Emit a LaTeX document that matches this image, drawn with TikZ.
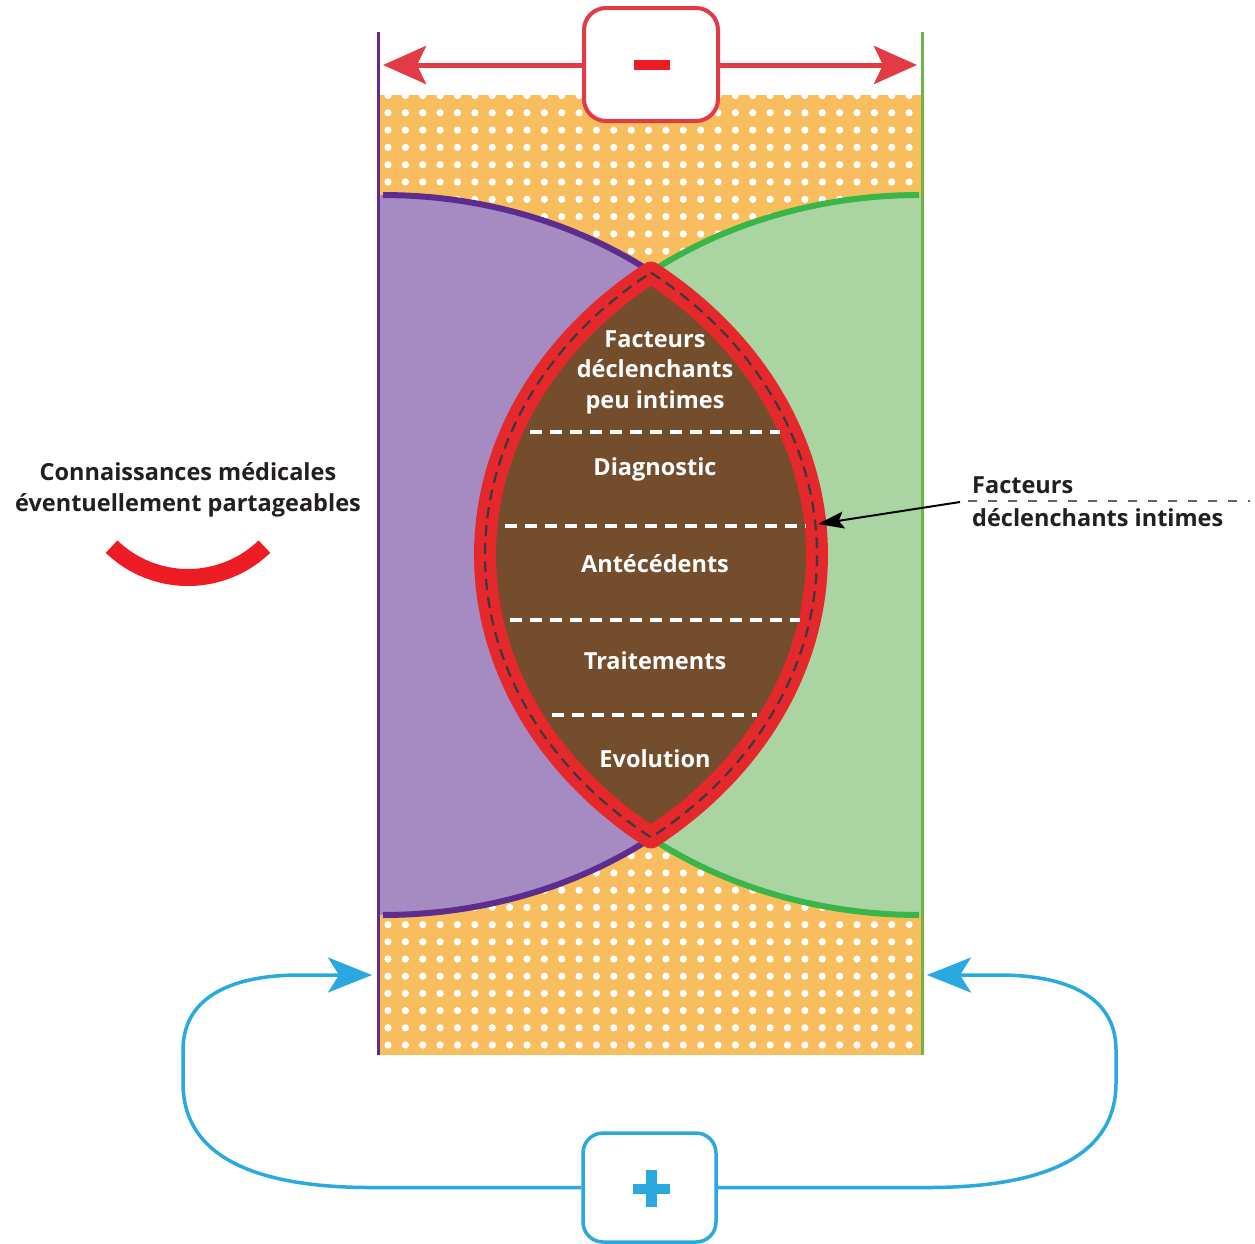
\documentclass[tikz,border=0pt]{standalone}
\usepackage{fontspec}
\setmainfont{Open Sans}
\usetikzlibrary{arrows.meta}
\definecolor{orangebg}{HTML}{F8BE5E}
\definecolor{purplefill}{HTML}{A68BC2}
\definecolor{purpleline}{HTML}{5E2C8F}
\definecolor{greenfill}{HTML}{AAD5A2}
\definecolor{greenline}{HTML}{3AB54A}
\definecolor{greenvert}{HTML}{6DB544}
\definecolor{lensbrown}{HTML}{744D2D}
\definecolor{lensred}{HTML}{E4282C}
\definecolor{arrowred}{HTML}{E23B45}
\definecolor{minusred}{HTML}{ED1C24}
\definecolor{txt}{HTML}{231F20}
\definecolor{cyanblue}{HTML}{29A9E0}
\definecolor{dashgray}{HTML}{3A3A3A}
\tikzset{
  lenslbl/.style={text=white, font=\bfseries\fontsize{23.5}{30}\selectfont, inner sep=0pt, anchor=base},
  sidelbl/.style={text=txt, font=\bfseries\fontsize{23.5}{31}\selectfont, inner sep=0pt},
  sepline/.style={white, line width=3.5pt, dash pattern=on 12pt off 8pt},
  bluecon/.style={cyanblue, line width=3.5pt},
  bluetip/.style={-{Stealth[length=44pt,width=35pt,inset=11pt]}},
  redtip/.style={{Stealth[length=43pt,width=38pt,inset=9pt]}-{Stealth[length=43pt,width=38pt,inset=9pt]}},
}
\begin{document}
\begin{tikzpicture}[x=1pt,y=-1pt]
\useasboundingbox (0,0) rectangle (1255,1243);
\fill[white] (0,0) rectangle (1255,1243);

% orange dotted background
\begin{scope}
  \clip (378,95) rectangle (922,1055);
  \fill[orangebg] (378,95) rectangle (922,1055);
  \foreach \i in {0,...,31}{
    \foreach \j in {0,...,27}{
      \fill[white] ({388+17.37*\i},{95.5+17.3*\j}) circle[radius=3.6];
      \fill[white] ({388+17.37*\i},{1045-17.2*\j}) circle[radius=3.6];
    }
  }
\end{scope}

% purple half-ellipse
\fill[purplefill] (380,195) -- plot[domain=-90:90, samples=150] ({380+437*cos(\x)},{555+360*sin(\x)}) -- cycle;
% green half-ellipse
\fill[greenfill] (922,915) -- plot[domain=90:270, samples=150] ({922+437*cos(\x)},{555+360*sin(\x)}) -- cycle;
\draw[purpleline, line width=6pt] plot[domain=-90:90, samples=150] ({383+434*cos(\x)},{555+360*sin(\x)});
\draw[greenline, line width=6pt] plot[domain=90:270, samples=150] ({919+434*cos(\x)},{555+360*sin(\x)});

% vertical lines
\draw[purpleline, line width=3pt] (378,32) -- (378,1055);
\draw[greenvert, line width=3pt] (922,32) -- (922,1055);

% lens
\fill[lensbrown] plot[domain=-51.68:51.68, samples=120] ({380+437*cos(\x)},{555+360*sin(\x)})
  -- plot[domain=128.32:231.68, samples=120] ({922+437*cos(\x)},{555+360*sin(\x)}) -- cycle;
\draw[lensred, line width=22pt, line join=round] plot[domain=-51.68:51.68, samples=120] ({380+437*cos(\x)},{555+360*sin(\x)})
  -- plot[domain=128.32:231.68, samples=120] ({922+437*cos(\x)},{555+360*sin(\x)}) -- cycle;
\draw[dashgray, line width=2.2pt, dash pattern=on 11pt off 7pt] plot[domain=-51.68:51.68, samples=120] ({380+437*cos(\x)},{555+360*sin(\x)})
  -- plot[domain=128.32:231.68, samples=120] ({922+437*cos(\x)},{555+360*sin(\x)}) -- cycle;

% separators
\coordinate (s1a) at (530,432); \coordinate (s1b) at (780,432);
\coordinate (s2a) at (505,526); \coordinate (s2b) at (806,526);
\coordinate (s3a) at (510,620); \coordinate (s3b) at (800,620);
\coordinate (s4a) at (552,715); \coordinate (s4b) at (757,715);
\draw[sepline] (s1a) -- (s1b);
\draw[sepline] (s2a) -- (s2b);
\draw[sepline] (s3a) -- (s3b);
\draw[sepline] (s4a) -- (s4b);

% lens labels
\node[lenslbl] (f1) at (655,347) {Facteurs};
\node[lenslbl] (f2) at (655,377) {déclenchants};
\node[lenslbl] (f3) at (655,408) {peu intimes};
\node[lenslbl] (diag) at (655,475) {Diagnostic};
\node[lenslbl] (ante) at (655,572) {Antécédents};
\node[lenslbl] (trait) at (655,669) {Traitements};
\node[lenslbl] (evo) at (655,767) {Evolution};

% top arrow and minus box
\coordinate (tl) at (383,65);
\coordinate (tr) at (917,65);
\draw[arrowred, line width=5pt, redtip] (tl) -- (tr);
\node[draw=arrowred, line width=4pt, fill=white, rounded corners=22pt, minimum width=134pt, minimum height=113pt] (minus) at (651,64.5) {};
\fill[minusred] (634,60) rectangle (670,70);

% left label and smile
\node[sidelbl, anchor=base] (conn1) at (188,480) {Connaissances médicales};
\node[sidelbl, anchor=base] (conn2) at (188,511) {éventuellement partageables};
\draw[minusred, line width=17pt] plot[domain=46:134, samples=60] ({188+110*cos(\x)},{467.5+110*sin(\x)});

% right label
\draw[dashgray!80, line width=1.5pt, dash pattern=on 9pt off 11pt] (968,501) -- (1250,501);
\node[sidelbl, anchor=base west] (ri1) at (972,493) {Facteurs};
\node[sidelbl, anchor=base west] (ri2) at (972,526) {déclenchants intimes};
\coordinate (fi) at (960,502);
\coordinate (lensR) at (818,524);
\draw[black, line width=2pt, -{Stealth[length=26pt,width=17pt,inset=5pt]}] (fi) -- (lensR);

% bottom plus box and loops
\coordinate (lt) at (372,975);
\coordinate (rt) at (927,975);
\node[draw=cyanblue, line width=3.5pt, fill=white, rounded corners=20pt, minimum width=133pt, minimum height=109pt] (plus) at (649.5,1187.5) {};
\draw[bluecon, bluetip] (plus.west) -- (371,1187.5) .. controls (262,1187.5) and (183,1160) .. (183,1083) -- (183,1050) .. controls (183,995) and (235,975) .. (300,975) -- (lt);
\draw[bluecon, bluetip] (plus.east) -- (928,1187.5) .. controls (1037,1187.5) and (1116,1160) .. (1116,1083) -- (1116,1050) .. controls (1116,995) and (1064,975) .. (999,975) -- (rt);
\fill[cyanblue] (633,1184) rectangle (670,1194);
\fill[cyanblue] (646,1170) rectangle (657,1207);
\end{tikzpicture}
\end{document}
